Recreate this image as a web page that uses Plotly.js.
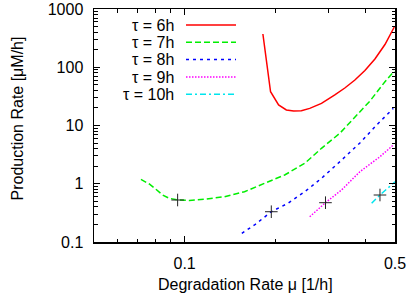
<!DOCTYPE html>
<html>
<head>
<meta charset="utf-8">
<script src="https://cdn.plot.ly/plotly-3.0.1.min.js"></script>
<style>html,body{margin:0;padding:0;background:#fff;}#chart{width:409px;height:298px;}</style>
</head>
<body>
<div id="chart"></div>
<script>
// ---- data ----
const seriesNames = ["τ = 6h", "τ = 7h", "τ = 8h", "τ = 9h", "τ = 10h"];
const seriesColors = ["#ff0000", "#00ee00", "#0000ff", "#ff00ff", "#00e5ee"];
const seriesDash = ["solid", "6px,3px", "3px,4px", "1.5px,1.5px", "6px,3px,2px,3px"];

const mu6 = [0.1820,0.1930,0.2052,0.2178,0.2303,0.2443,0.2604,0.2849,0.3155,0.3406,0.3679,0.3972,0.4288,0.4630,0.4973];
const p6  = [372,38.0,22.5,18.5,17.7,17.9,19.7,24.0,33.4,44.0,60.4,88.0,138.6,245.9,491];

const mu7 = [0.0716,0.0763,0.0803,0.0845,0.0889,0.0948,0.1037,0.1163,0.1356,0.1581,0.1843,0.2150,0.2506,0.2849,0.3278,0.3679,0.4127,0.4630,0.4973];
const p7  = [1.19,0.990,0.803,0.641,0.563,0.526,0.516,0.541,0.599,0.730,1.018,1.413,2.244,4.06,7.35,13.7,26.3,56.5,86.2];

const mu8 = [0.1549,0.1707,0.1941,0.2205,0.2506,0.2849,0.3236,0.3822,0.4345,0.4935];
const p8  = [0.141,0.196,0.331,0.462,0.730,1.24,2.244,5.01,10.2,19.7];

const mu9 = [0.2604,0.2938,0.3321,0.3822,0.4457,0.4935];
const p9  = [0.272,0.473,0.781,1.61,2.91,4.63];

const mu10 = [0.4182,0.4457,0.5];
const p10  = [0.462,0.641,1.08];

const optMu = [0.0948,0.1941,0.2938,0.4457];
const optP  = [0.526,0.331,0.473,0.641];

const xTickVals = [0.1, 0.5];
const xTickText = ["0.1", "0.5"];
const yTickVals = [0.1, 1, 10, 100, 1000];
const yTickText = ["0.1", "1", "10", "100", "1000"];
const xMinorVals = [0.06,0.07,0.08,0.09,0.2,0.3,0.4];

const xTitle = "Degradation Rate μ [1/h]";
const yTitle = "Production Rate [μM/h]";

// ---- figure ----
const W = 409, H = 298;
const M = {l: 94, r: 14, t: 9, b: 56};
const pw = W - M.l - M.r, ph = H - M.t - M.b;
const px2x = p => (p - M.l) / pw;
const py2y = p => (H - M.b - p) / ph;

const FONT = "Liberation Sans, Arial, Helvetica, sans-serif";

const yMinor = [];
for (let e = -1; e < 3; e++) for (let k = 2; k <= 9; k++) yMinor.push(k * Math.pow(10, e));

const xs = [mu6, mu7, mu8, mu9, mu10];
const ys = [p6, p7, p8, p9, p10];
const traces = xs.map((x, i) => ({
  x: x, y: ys[i], type: "scatter", mode: "lines", name: seriesNames[i],
  line: {color: seriesColors[i], width: 1.5, dash: seriesDash[i]},
  showlegend: false, hoverinfo: "skip"
}));
traces.push({
  x: optMu, y: optP, type: "scatter", mode: "markers", showlegend: false,
  marker: {symbol: "cross-thin", size: 9, color: "#222", line: {color: "#222", width: 1}},
  hoverinfo: "skip"
});

const annotations = [
  {text: xTitle, xref: "paper", yref: "paper", x: px2x(245), y: py2y(284),
   xanchor: "center", yanchor: "middle", showarrow: false, font: {family: FONT, size: 16, color: "#000"}},
  {text: yTitle, xref: "paper", yref: "paper", x: px2x(16.5), y: py2y(119), textangle: -90,
   xanchor: "center", yanchor: "middle", showarrow: false, font: {family: FONT, size: 16, color: "#000"}}
];
const shapes = [];
const rowY = [25, 42.3, 59.6, 77, 94.3];
seriesNames.forEach((n, i) => {
  annotations.push({text: n, xref: "paper", yref: "paper", x: px2x(176), y: py2y(rowY[i]),
    xanchor: "right", yanchor: "middle", showarrow: false, font: {family: FONT, size: 16, color: "#000"}});
  shapes.push({type: "line", xref: "paper", yref: "paper", x0: px2x(186), x1: px2x(236),
    y0: py2y(rowY[i]), y1: py2y(rowY[i]), line: {color: seriesColors[i], width: 1.5, dash: seriesDash[i]}});
});

const axisCommon = {
  type: "log", showgrid: false, zeroline: false, showline: true, linecolor: "#000", linewidth: 1.5,
  mirror: "allticks", ticks: "inside", ticklen: 6, tickwidth: 1, tickcolor: "#000",
  tickfont: {family: FONT, size: 16, color: "#000"}, tickmode: "array", ticklabelstandoff: 6
};

const layout = {
  width: W, height: H, margin: M, paper_bgcolor: "#fff", plot_bgcolor: "#fff",
  showlegend: false,
  xaxis: Object.assign({}, axisCommon, {
    range: [Math.log10(0.05), Math.log10(0.5)], tickvals: xTickVals, ticktext: xTickText,
    minor: {tickmode: "array", tickvals: xMinorVals, ticks: "inside", ticklen: 3.5, tickwidth: 1, tickcolor: "#000"}
  }),
  yaxis: Object.assign({}, axisCommon, {
    range: [-1, 3], tickvals: yTickVals, ticktext: yTickText,
    minor: {tickmode: "array", tickvals: yMinor, ticks: "inside", ticklen: 3.5, tickwidth: 1, tickcolor: "#000"}
  }),
  annotations: annotations, shapes: shapes
};

Plotly.newPlot("chart", traces, layout, {staticPlot: true, displayModeBar: false});
</script>
</body>
</html>
